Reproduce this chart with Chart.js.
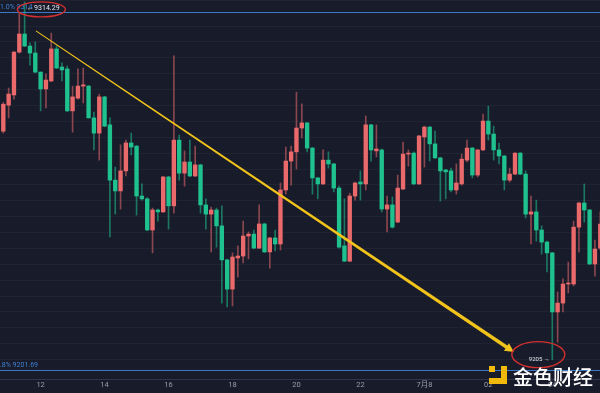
<!DOCTYPE html>
<html><head><meta charset="utf-8">
<script src="https://cdn.jsdelivr.net/npm/chart.js@4/dist/chart.umd.min.js"></script>
<style>html,body{margin:0;padding:0;background:#181b2a;overflow:hidden}#wrap{width:600px;height:393px;position:relative}</style>
</head><body><div id="wrap"><canvas id="c" width="600" height="393"></canvas></div>
<script>
// 10-minute candles, index 0 = 10:50
const opens = [9276.9,9285.1,9288.3,9301.8,9307.5,9303.7,9301.5,9295.5,9290.2,9292.7,9302.8,9297.1,9296.5,9283.3,9287.3,9291.1,9291.1,9281.1,9276.3,9287.7,9278.9,9261.5,9258.1,9264.4,9273.2,9272.2,9256.5,9255.6,9245.8,9252.1,9251.5,9262.5,9253.4,9274.1,9263.7,9267.2,9262.8,9266.3,9253.7,9250.8,9252.1,9247.1,9236.4,9227.2,9237.0,9237.6,9243.9,9244.5,9240.1,9247.7,9238.9,9243.3,9241.4,9258.4,9267.5,9270.4,9277.9,9279.5,9271.6,9262.2,9260.3,9267.8,9266.6,9259.0,9240.8,9236.0,9256.5,9260.9,9260.3,9278.9,9270.7,9271.0,9252.4,9253.7,9248.3,9258.7,9269.7,9270.0,9260.3,9275.1,9278.2,9272.9,9268.5,9264.7,9264.4,9258.4,9260.3,9267.8,9271.6,9263.1,9271.0,9280.1,9276.0,9271.0,9269.1,9261.5,9263.4,9270.0,9263.4,9250.8,9251.5,9245.8,9242.0,9238.6,9220.0,9222.8,9228.8,9228.8,9246.7,9254.3,9252.1,9235.1,9240.1];
const highs = [9286.0,9290.5,9302.0,9314.1,9317.6,9304.7,9305.0,9295.6,9294.9,9307.8,9303.7,9298.4,9297.4,9291.1,9296.5,9296.8,9291.3,9282.9,9288.6,9287.9,9281.1,9265.6,9272.6,9274.1,9276.3,9272.4,9260.3,9256.0,9252.7,9252.4,9262.7,9262.7,9300.6,9275.7,9270.7,9274.1,9272.2,9266.5,9255.6,9253.0,9252.7,9253.4,9236.6,9238.6,9240.8,9248.6,9245.2,9245.8,9253.7,9248.0,9243.5,9245.8,9260.6,9271.9,9272.2,9289.2,9285.5,9279.7,9271.8,9262.4,9271.0,9270.4,9266.8,9259.6,9255.6,9257.4,9260.9,9264.4,9281.7,9279.1,9278.9,9271.3,9256.5,9256.2,9263.1,9273.5,9271.0,9270.4,9275.6,9278.5,9278.4,9276.9,9268.7,9264.9,9265.3,9266.6,9269.7,9274.1,9271.8,9271.2,9282.3,9284.8,9278.5,9273.2,9269.3,9265.3,9270.2,9270.2,9264.4,9256.5,9255.2,9247.1,9242.3,9238.8,9226.3,9230.4,9235.7,9248.6,9254.5,9260.3,9252.3,9242.6,9251.5];
const lows = [9276.3,9281.1,9287.0,9301.5,9303.5,9297.7,9295.3,9283.3,9284.2,9292.5,9296.6,9292.7,9283.1,9276.6,9287.0,9285.8,9281.0,9271.0,9267.8,9278.3,9243.6,9250.8,9252.4,9262.8,9269.4,9250.5,9255.2,9245.6,9238.6,9248.6,9251.3,9246.1,9251.1,9261.5,9259.6,9262.6,9262.6,9251.1,9246.1,9238.9,9240.4,9222.8,9221.6,9221.9,9231.0,9235.4,9236.7,9239.9,9239.9,9238.7,9233.8,9239.2,9239.5,9257.1,9259.9,9265.0,9274.8,9270.4,9257.1,9255.6,9260.1,9265.3,9257.8,9240.1,9235.8,9235.8,9255.2,9255.2,9258.4,9267.5,9268.8,9251.5,9245.2,9246.4,9248.1,9258.5,9265.9,9260.1,9260.1,9265.6,9267.5,9268.3,9254.9,9255.6,9257.8,9257.1,9259.9,9267.2,9262.2,9262.5,9270.8,9274.1,9267.8,9266.6,9258.4,9260.9,9263.2,9263.2,9249.6,9241.4,9242.3,9238.2,9232.6,9205.0,9210.5,9220.0,9226.0,9228.2,9238.9,9248.3,9234.9,9231.3,9239.5];
const closes = [9285.4,9288.6,9301.8,9307.5,9303.7,9301.5,9295.5,9290.2,9293.0,9302.8,9296.8,9296.2,9283.3,9287.7,9291.1,9291.5,9281.1,9276.3,9287.7,9278.5,9261.5,9258.1,9264.4,9273.2,9271.9,9256.5,9255.6,9245.8,9252.1,9251.5,9262.5,9253.4,9274.1,9263.7,9267.2,9262.8,9266.3,9253.7,9250.8,9252.1,9247.1,9236.4,9227.2,9237.3,9237.6,9243.9,9244.5,9240.1,9247.7,9238.9,9243.3,9241.4,9258.4,9267.5,9270.4,9277.9,9279.5,9271.6,9262.2,9260.3,9267.8,9266.6,9259.0,9240.4,9236.0,9256.5,9260.6,9260.3,9278.9,9271.0,9271.3,9252.4,9253.7,9246.7,9259.0,9269.7,9270.0,9260.3,9275.4,9278.2,9272.9,9268.5,9264.4,9264.1,9258.4,9260.6,9268.1,9271.6,9263.1,9271.0,9280.1,9276.0,9271.0,9269.1,9261.5,9263.4,9270.0,9263.4,9250.8,9251.5,9245.8,9242.0,9238.6,9220.0,9222.8,9228.8,9229.1,9246.7,9254.3,9252.1,9235.1,9239.8,9247.7];

const tickIndexes = [7,19,31,43,55,67,79,91,103];
const tickLabels = ['12','14','16','18','20','22','7月8','02','04'];

const fibLevels = [9314.29, 9201.69];
const fibTexts = ['1.0% 9314', '0.8% 9201.69'];

const highMarkIndex = 4, highMarkText = '←9314.29';
const lowMarkIndex = 103, lowMarkValue = 9205.0, lowMarkText = '9205 →';

const trendStart = [6.13, 9308.5];
const trendEnd = [95.8, 9207.4];

const logoText = '金色财经';

const UP = '#ea6a6c', DOWN = '#1fc28e';
const UPW = 'rgba(234,106,108,0.55)', DOWNW = 'rgba(31,194,142,0.55)';
const isUp = opens.map((o,i)=>closes[i] >= o);

const bodyData = opens.map((o,i)=>({x:i, y:[o, closes[i]]}));
const wickData = lows.map((l,i)=>({x:i, y:[l, highs[i]]}));

const annot = {
  id:'annot',
  beforeDatasetsDraw(chart){
    const {ctx, chartArea:a, scales:{y}} = chart;
    ctx.save();
    fibLevels.forEach((lv,k)=>{
      const py = Math.round(y.getPixelForValue(lv))+0.5;
      ctx.strokeStyle='#3a78c9'; ctx.lineWidth=1;
      ctx.beginPath(); ctx.moveTo(a.left,py); ctx.lineTo(a.right,py); ctx.stroke();
      ctx.fillStyle='#3f80d2'; ctx.font='7px Roboto'; ctx.textBaseline='bottom'; ctx.textAlign='left';
      ctx.fillText(fibTexts[k], k===0 ? 0 : -4, py-2);
    });
    ctx.restore();
  },
  afterDatasetsDraw(chart){
    const {ctx, scales:{x,y}} = chart;
    ctx.save();
    const x0=x.getPixelForValue(trendStart[0]), y0=y.getPixelForValue(trendStart[1]);
    const x1=x.getPixelForValue(trendEnd[0]), y1=y.getPixelForValue(trendEnd[1]);
    const dx=x1-x0, dy=y1-y0, L=Math.hypot(dx,dy), ux=dx/L, uy=dy/L, nx=-uy, ny=ux;
    const head=9, hw=4.5, w0=0.5, w1=1.7;
    const bx=x1-ux*head, by=y1-uy*head;
    ctx.fillStyle='#f2c31b';
    ctx.beginPath();
    ctx.moveTo(x0+nx*w0, y0+ny*w0);
    ctx.lineTo(bx+nx*w1, by+ny*w1);
    ctx.lineTo(bx+nx*hw, by+ny*hw);
    ctx.lineTo(x1,y1);
    ctx.lineTo(bx-nx*hw, by-ny*hw);
    ctx.lineTo(bx-nx*w1, by-ny*w1);
    ctx.lineTo(x0-nx*w0, y0-ny*w0);
    ctx.closePath(); ctx.fill();

    ctx.font='7px Roboto'; ctx.textBaseline='middle';
    const hx = x.getPixelForValue(highMarkIndex)+2.5;
    const hy = y.getPixelForValue(fibLevels[0])-4.5;
    ctx.fillStyle='#e6e8ee'; ctx.textAlign='left';
    ctx.fillText(highMarkText, hx, hy);
    const hw2 = ctx.measureText(highMarkText).width;
    ctx.strokeStyle='#d3302f'; ctx.lineWidth=1.4;
    ctx.beginPath(); ctx.ellipse(hx+hw2/2-2, hy+1.5, 24, 7.5, 0, 0, Math.PI*2); ctx.stroke();

    const lx = x.getPixelForValue(lowMarkIndex)-2.5;
    const ly = y.getPixelForValue(lowMarkValue);
    ctx.fillStyle='#e6e8ee'; ctx.textAlign='right'; ctx.font='6px Roboto';
    ctx.fillText(lowMarkText, lx, ly);
    const lw = ctx.measureText(lowMarkText).width;
    ctx.beginPath(); ctx.ellipse(lx-lw/2-1, ly-5, 26.5, 13, 0, 0, Math.PI*2); ctx.stroke();
    ctx.restore();
  },
  afterDraw(chart){
    const {ctx} = chart;
    ctx.save();
    ctx.fillStyle='#f0b90b';
    ctx.fillRect(489,366,6,6);
    ctx.fillRect(501,366,6,18);
    ctx.fillRect(489,378,18,6);
    ctx.fillStyle='#ffffff';
    ctx.font='500 20px "Noto Sans CJK SC"';
    ctx.textAlign='left'; ctx.textBaseline='middle';
    ctx.fillText(logoText, 513, 377);
    ctx.restore();
  }
};

new Chart(document.getElementById('c'), {
  type:'bar',
  data:{ datasets:[
    { label:'wick', data:wickData, barThickness:1, backgroundColor:isUp.map(u=>u?UPW:DOWNW), borderWidth:0, grouped:false, order:2 },
    { label:'body', data:bodyData, barThickness:3.7, minBarLength:1, backgroundColor:isUp.map(u=>u?UP:DOWN), borderWidth:0, grouped:false, order:1 }
  ]},
  options:{
    responsive:false, animation:false, devicePixelRatio:1,
    layout:{padding:0},
    plugins:{legend:{display:false}, tooltip:{enabled:false}},
    scales:{
      x:{ type:'linear', min:-0.62, max:111.95, offset:false,
          grid:{display:false, drawTicks:false, tickLength:0}, border:{display:true, color:'#30344a'},
          ticks:{ color:'#9a9daa', font:{size:7.5, family:'Roboto, "Noto Sans CJK SC"'}, padding:2, maxRotation:0, autoSkip:false,
                  callback:(v)=>{ const k=tickIndexes.indexOf(v); return k>=0?tickLabels[k]:''; } },
          afterBuildTicks:(s)=>{ s.ticks = tickIndexes.map(v=>({value:v})); },
          afterFit:(s)=>{ s.height = 14; } },
      y:{ type:'linear', min:9198.9, max:9318.2,
          grid:{color:'rgba(255,255,255,0.035)', drawTicks:false}, border:{display:false},
          ticks:{display:false, stepSize:5},
          afterFit:(s)=>{ s.width = 0; } }
    }
  },
  plugins:[annot]
});
</script></body></html>
